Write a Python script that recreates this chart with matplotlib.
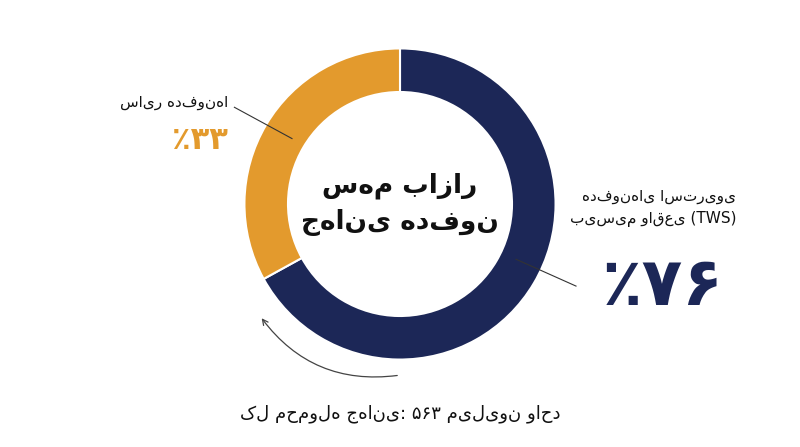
import matplotlib.pyplot as plt
from matplotlib.patches import FancyArrowPatch

plt.rcParams['font.family'] = ['DejaVu Sans']

labels = ['هدفون‌های استریوی\nبی‌سیم واقعی (TWS)', 'سایر هدفون‌ها']
share_text = ['٪۷۶', '٪۳۳']
wedge_sizes = [67, 33]
colors = ['#1c2757', '#e39a2d']
center_text = 'سهم بازار\nجهانی هدفون'
footer = 'کل محموله جهانی: ۵۶۳ میلیون واحد'

fig = plt.figure(figsize=(8, 4.47), dpi=100)
cy = 1 - 204 / 447
h = 0.87
w = h * 4.47 / 8
ax = fig.add_axes([0.5 - w / 2, cy - h / 2, w, h])
ax.set_aspect('equal')
ax.pie(wedge_sizes, colors=colors, startangle=90, counterclock=False,
       radius=1.0, wedgeprops=dict(width=0.28, edgecolor='white', linewidth=1.5))
ax.set_xlim(-1.25, 1.25)
ax.set_ylim(-1.25, 1.25)

ax.text(0, 0.0, center_text, ha='center', va='center', fontsize=19,
        fontweight='bold', color='#111111', linespacing=1.5)

arr = FancyArrowPatch((0.0, -1.1), (-0.9, -0.72), connectionstyle='arc3,rad=-0.3',
                      arrowstyle='->', mutation_scale=10, color='#444444', lw=0.9)
ax.add_patch(arr)

fig.add_artist(plt.Line2D([0.293, 0.365], [0.76, 0.69], color='#333333', lw=0.8))
fig.add_artist(plt.Line2D([0.645, 0.72], [0.42, 0.36], color='#333333', lw=0.8))

fig.text(0.285, 0.77, labels[1], ha='right', va='center', fontsize=11, color='#111111')
fig.text(0.285, 0.685, share_text[1], ha='right', va='center', fontsize=22,
         fontweight='bold', color=colors[1])
fig.text(0.92, 0.535, labels[0], ha='right', va='center', fontsize=11,
         color='#111111', linespacing=1.6)
fig.text(0.905, 0.36, share_text[0], ha='right', va='center', fontsize=48,
         fontweight='bold', color=colors[0])

fig.text(0.5, 0.075, footer, ha='center', va='center', fontsize=13, color='#111111')

fig.savefig('out.png', dpi=100, facecolor='white')
